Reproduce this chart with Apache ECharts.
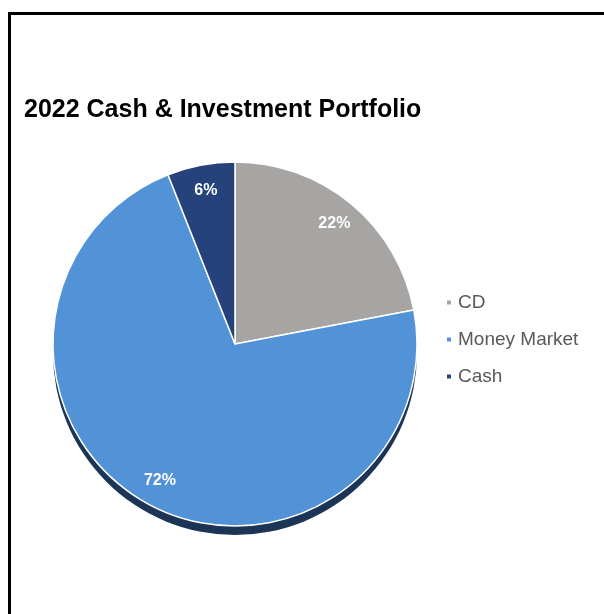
<!DOCTYPE html>
<html>
<head>
<meta charset="utf-8">
<script src="https://cdn.jsdelivr.net/npm/echarts@6/dist/echarts.min.js"></script>
<style>
  html, body { margin: 0; padding: 0; background: #ffffff; }
  #chart { width: 604px; height: 614px; }
</style>
</head>
<body>
<div id="chart"></div>
<script>
// Portfolio allocation for 2022 (percent of total)
const categories = ['CD', 'Money Market', 'Cash'];
const shares = [22, 72, 6];
const sliceColors = ['#a7a5a3', '#5292d6', '#25427a'];

const titleText = '2022 Cash & Investment Portfolio';

const center = [235, 344];
const radius = 182;

const pieData = categories.map((name, i) => ({
  name,
  value: shares[i],
  itemStyle: { color: sliceColors[i] }
}));

const chart = echarts.init(document.getElementById('chart'), null, { renderer: 'canvas' });

chart.setOption({
  backgroundColor: '#ffffff',
  animation: false,
  title: {
    text: titleText,
    left: 24,
    top: 98,
    padding: 0,
    textStyle: {
      fontFamily: 'Arial, "Liberation Sans", sans-serif',
      fontSize: 25,
      fontWeight: 'bold',
      color: '#000000',
      lineHeight: 25
    }
  },
  legend: {
    orient: 'vertical',
    left: 445,
    top: 293,
    padding: 0,
    itemWidth: 6,
    itemHeight: 6,
    itemGap: 18,
    icon: 'rect',
    selectedMode: false,
    data: categories,
    textStyle: {
      fontFamily: 'Arial, "Liberation Sans", sans-serif',
      fontSize: 19,
      color: '#595959',
      padding: [0, 0, 0, 1]
    }
  },
  graphic: [{
    // frame around the chart area (left and top edges)
    type: 'polyline',
    silent: true,
    shape: { points: [[9.5, 614], [9.5, 13.5], [604, 13.5]] },
    style: { stroke: '#000000', lineWidth: 3, fill: null }
  }],
  series: [
    {
      // darker rim under the pie for the raised look
      type: 'pie',
      silent: true,
      z: 1,
      center: [center[0], center[1] + 9],
      radius: radius,
      label: { show: false },
      labelLine: { show: false },
      itemStyle: { color: '#1c3556', borderWidth: 0 },
      data: [{ name: 'rim', value: 1 }]
    },
    {
      type: 'pie',
      z: 2,
      silent: true,
      center: center,
      radius: radius,
      startAngle: 90,
      clockwise: true,
      label: { show: false },
      labelLine: { show: false },
      itemStyle: { borderColor: '#ffffff', borderWidth: 1.5 },
      data: pieData
    },
    {
      // percentage labels placed near the outer edge of each slice
      type: 'pie',
      z: 3,
      silent: true,
      center: center,
      radius: [radius * 0.68, radius],
      startAngle: 90,
      clockwise: true,
      itemStyle: { color: 'rgba(0,0,0,0)', borderWidth: 0 },
      label: {
        show: true,
        position: 'inside',
        formatter: '{c}%',
        color: '#ffffff',
        fontFamily: 'Arial, "Liberation Sans", sans-serif',
        fontSize: 16,
        fontWeight: 'bold'
      },
      labelLine: { show: false },
      data: categories.map((name, i) => ({ name, value: shares[i] }))
    }
  ]
});
</script>
</body>
</html>
